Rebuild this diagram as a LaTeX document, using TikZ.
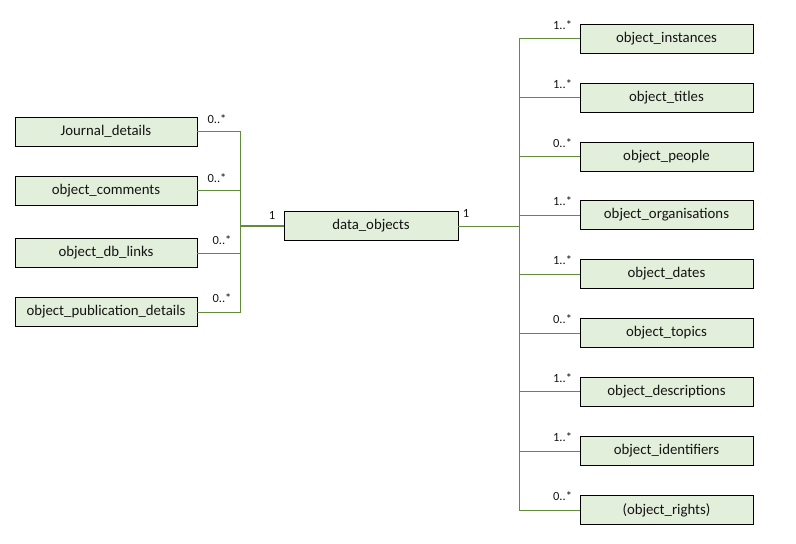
\documentclass[tikz,border=0pt]{standalone}
\usepackage{fontspec}
\setmainfont{Carlito}
\definecolor{boxfill}{RGB}{226,239,218}
\definecolor{linegreen}{RGB}{98,140,58}
\definecolor{txt}{RGB}{20,20,20}
\begin{document}
\begin{tikzpicture}[x=1pt,y=-1pt,
  entity/.style={draw=black,fill=boxfill,line width=0.9pt,minimum height=29pt,inner sep=0pt,font=\fontsize{14.8}{16}\selectfont,text=txt},
  leftbox/.style={entity,minimum width=182pt},
  rightbox/.style={entity,minimum width=173pt},
  conn/.style={draw=linegreen,line width=1pt},
  mult/.style={font=\fontsize{12.5}{14}\selectfont,text=txt,inner sep=0pt}]
\useasboundingbox (0,0) rectangle (796,544);
% left boxes
\node[leftbox] (jd) at (106,131.5) {Journal\_details};
\node[leftbox] (oc) at (106,190.5) {object\_comments};
\node[leftbox] (odb) at (106,253) {object\_db\_links};
\node[leftbox] (opd) at (106,312) {object\_publication\_details};
% centre
\node[entity,minimum width=174pt] (do) at (371,225.5) {data\_objects};
% right boxes
\node[rightbox] (r1) at (666.5,38.5) {object\_instances};
\node[rightbox] (r2) at (666.5,97.5) {object\_titles};
\node[rightbox] (r3) at (666.5,156.5) {object\_people};
\node[rightbox] (r4) at (666.5,215) {object\_organisations};
\node[rightbox] (r5) at (666.5,274) {object\_dates};
\node[rightbox] (r6) at (666.5,333) {object\_topics};
\node[rightbox] (r7) at (666.5,391.5) {object\_descriptions};
\node[rightbox] (r8) at (666.5,451) {object\_identifiers};
\node[rightbox] (r9) at (666.5,510) {(object\_rights)};
% bus coordinates
\coordinate (lb) at (240,226);
\coordinate (rb) at (519,226);
% left connectors
\foreach \n in {jd,oc,odb,opd}{
  \draw[conn] (\n.east) -| (lb);
}
\draw[draw=linegreen,line width=2pt] (lb) -- (do.west |- lb);
% right connectors
\draw[conn] (do.east |- rb) -- (rb);
\foreach \n in {r1,r2,r3,r4,r5,r6,r7,r8,r9}{
  \draw[conn] (\n.west) -| (rb);
}
% multiplicities
\node[mult] (m1) at (217,119) {0..*};
\node[mult] (m2) at (217,178) {0..*};
\node[mult] (m3) at (222,240) {0..*};
\node[mult] (m4) at (222,298) {0..*};
\node[mult] (mc1) at (272,215) {1};
\node[mult] (mc2) at (466,213) {1};
\foreach \n/\t in {r1/1..*,r2/1..*,r3/0..*,r4/1..*,r5/1..*,r6/0..*,r7/1..*,r8/1..*,r9/0..*}{
  \node[mult,anchor=south] at ([xshift=-17pt,yshift=-6pt]\n.north west) {\t};
}
\end{tikzpicture}
\end{document}
